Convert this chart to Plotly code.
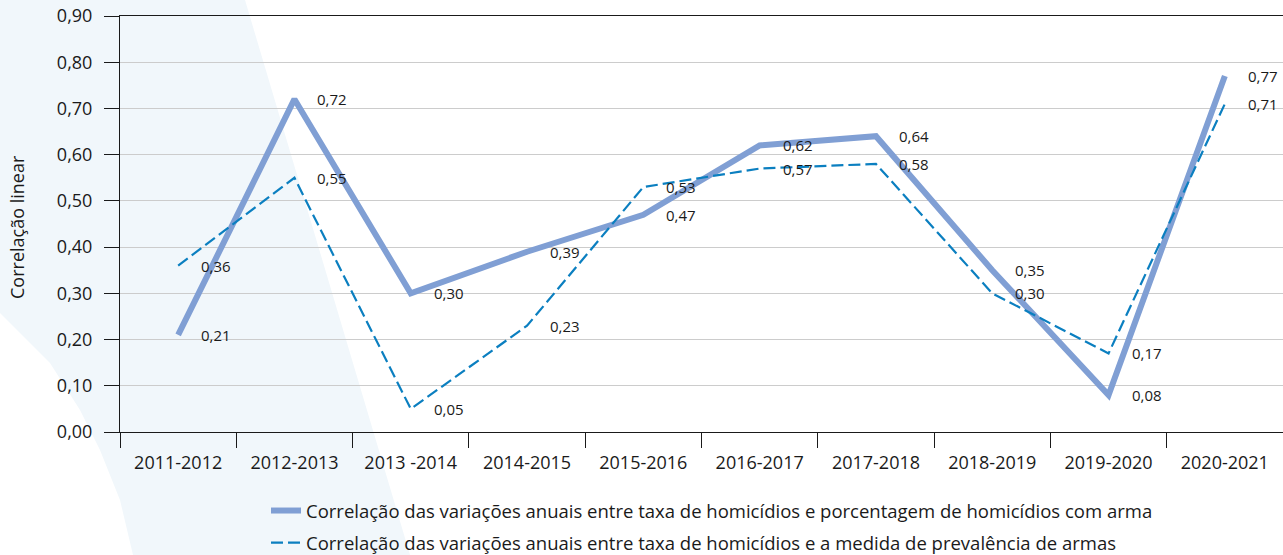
import plotly.graph_objects as go

# Periods (annual variation windows)
periods = ["2011-2012", "2012-2013", "2013 -2014", "2014-2015", "2015-2016",
           "2016-2017", "2017-2018", "2018-2019", "2019-2020", "2020-2021"]

# Correlation with share of firearm homicides
corr_pct_arma = [0.21, 0.72, 0.30, 0.39, 0.47, 0.62, 0.64, 0.35, 0.08, 0.77]
# Correlation with firearm prevalence measure
corr_prev_armas = [0.36, 0.55, 0.05, 0.23, 0.53, 0.57, 0.58, 0.30, 0.17, 0.71]

name_pct = "Correlação das variações anuais entre taxa de homicídios e porcentagem de homicídios com arma"
name_prev = "Correlação das variações anuais entre taxa de homicídios e a medida de prevalência de armas"

y_ticks = [0.0, 0.1, 0.2, 0.3, 0.4, 0.5, 0.6, 0.7, 0.8, 0.9]

FONT = "Open Sans"
TXT = "#1a1a1a"
C_SOLID = "#809fd4"
C_DASH = "#0b7fc0"

# layout geometry (px)
W_TOTAL, H_TOTAL = 1283, 555
M_L, M_R, M_T, M_B = 120, 0, 16, 123
PW = W_TOTAL - M_L - M_R
PH = H_TOTAL - M_T - M_B


def to_paper(px, py):
    return (px - M_L) / PW, (H_TOTAL - M_B - py) / PH


fig = go.Figure()

fig.add_trace(go.Scatter(
    x=periods, y=corr_pct_arma, mode="lines", name=name_pct,
    line=dict(color=C_SOLID, width=6), legendgroup="a",
))
fig.add_trace(go.Scatter(
    x=periods, y=corr_prev_armas, mode="lines", name=name_prev,
    line=dict(color=C_DASH, width=2.2, dash="12px,5px"), legendgroup="b",
))

annotations = []
for series in (corr_pct_arma, corr_prev_armas):
    for p, v in zip(periods, series):
        annotations.append(dict(
            x=p, y=v, xref="x", yref="y", text=f"{v:.2f}".replace(".", ","),
            showarrow=False, xanchor="left", yanchor="middle", xshift=21,
            font=dict(family=FONT, size=15, color=TXT),
        ))

# vertical axis title
tx, _ = to_paper(17, 0)
annotations.append(dict(
    x=tx, y=to_paper(0, 227)[1], xref="paper", yref="paper", text="Correlação linear",
    textangle=-90, showarrow=False, xanchor="center", yanchor="middle",
    font=dict(family=FONT, size=18, color=TXT),
))

# light decorative band behind the chart
band_px = [(0, 0), (245, 0), (410, 555), (133, 555), (120, 500), (100, 450),
           (80, 410), (50, 363), (0, 313)]
pts = [to_paper(x, y) for x, y in band_px]
path = "M " + " L ".join(f"{x:.4f},{y:.4f}" for x, y in pts) + " Z"

fig.update_layout(
    width=W_TOTAL, height=H_TOTAL,
    margin=dict(l=M_L, r=M_R, t=M_T, b=M_B, autoexpand=False),
    paper_bgcolor="white", plot_bgcolor="rgba(0,0,0,0)",
    separators=",.",
    font=dict(family=FONT, size=18, color=TXT),
    showlegend=True,
    legend=dict(
        orientation="v", x=to_paper(266, 0)[0], xanchor="left",
        y=to_paper(0, 492)[1], yanchor="top",
        font=dict(family=FONT, size=18.5, color=TXT),
        traceorder="grouped", tracegroupgap=5,
        bgcolor="rgba(0,0,0,0)",
    ),
    annotations=annotations,
    shapes=[dict(type="path", path=path, xref="paper", yref="paper",
                 fillcolor="#f1f7fb", line=dict(width=0), layer="below")],
)

fig.update_xaxes(
    type="category", showgrid=False, tickson="boundaries",
    ticks="outside", ticklen=15, tickcolor=TXT, tickwidth=1,
    showline=True, linecolor=TXT, linewidth=1, mirror=True,
    tickfont=dict(family=FONT, size=18, color=TXT),
    ticklabelstandoff=14, range=[-0.5, 9.5],
)
fig.update_yaxes(
    range=[0, 0.9], tickvals=y_ticks, tickformat=".2f",
    showgrid=True, gridcolor="#cccccc", gridwidth=1,
    ticks="outside", ticklen=15, tickcolor=TXT, tickwidth=1,
    showline=True, linecolor=TXT, linewidth=1, mirror=True,
    zeroline=False,
    tickfont=dict(family=FONT, size=18, color=TXT),
    ticklabelstandoff=8,
)

fig.write_html("out.html")
